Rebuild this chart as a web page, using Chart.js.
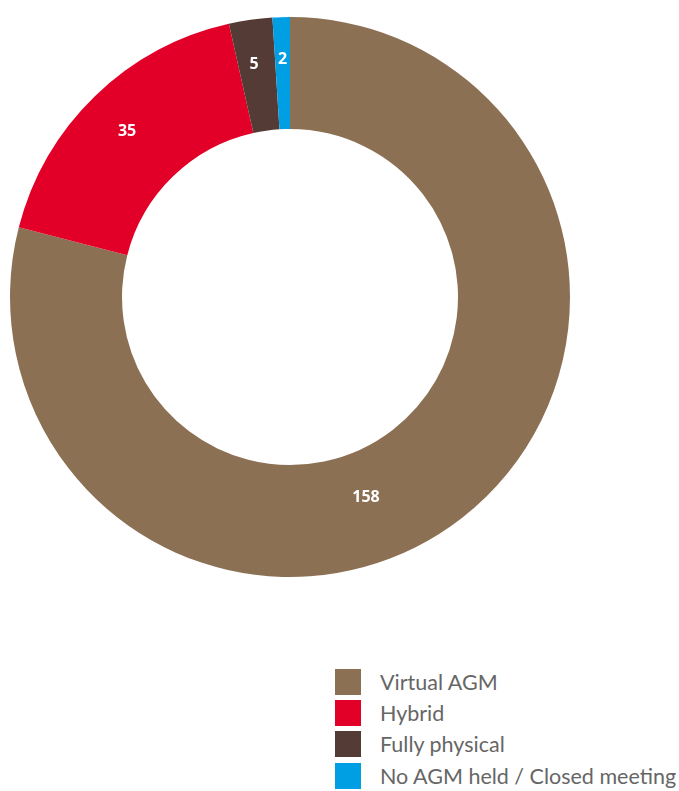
<!DOCTYPE html>
<html>
<head>
<meta charset="utf-8">
<script src="https://cdn.jsdelivr.net/npm/chart.js@4"></script>
<style>
  html, body { margin: 0; padding: 0; background: #fff; }
  #wrap { position: relative; width: 679px; height: 791px; }
  #chart { position: absolute; left: 0; top: 0; }
  #legend { position: absolute; left: 335px; top: 666px; font-family: Lato, "Noto Sans", sans-serif; font-size: 21.5px; color: #666; }
  .item { display: flex; align-items: center; height: 31.3px; white-space: nowrap; }
  .box { width: 26px; height: 26px; margin-right: 19px; flex: none; }
</style>
</head>
<body>
<div id="wrap">
  <canvas id="chart" width="679" height="600"></canvas>
  <div id="legend"></div>
</div>
<script>
const categories = ["Virtual AGM", "Hybrid", "Fully physical", "No AGM held / Closed meeting"];
const meetings = [158, 35, 5, 2];
const colours = ["#8C7054", "#E30028", "#553B35", "#009FE3"];

// Writes each slice's value inside the ring
const sliceLabels = {
  id: "sliceLabels",
  afterDatasetsDraw(chart, args, opts) {
    const ctx = chart.ctx;
    const meta = chart.getDatasetMeta(0);
    ctx.save();
    ctx.fillStyle = "#fff";
    ctx.font = "bold 16px 'Open Sans', 'Noto Sans', sans-serif";
    ctx.textAlign = "center";
    ctx.textBaseline = "middle";
    meta.data.forEach((arc, i) => {
      const p = arc.getProps(["x", "y", "startAngle", "endAngle", "innerRadius", "outerRadius"], true);
      let a = (p.startAngle + p.endAngle) / 2;
      const shift = (opts.angleShift || [])[i] || 0;
      a += shift * Math.PI / 180;
      const r = (opts.radius || [])[i] || (p.innerRadius + p.outerRadius) / 2;
      ctx.fillText(String(chart.data.datasets[0].data[i]), p.x + Math.cos(a) * r, p.y + Math.sin(a) * r);
    });
    ctx.restore();
  }
};

const chart = new Chart(document.getElementById("chart"), {
  type: "doughnut",
  data: {
    labels: categories,
    datasets: [{ data: meetings, backgroundColor: colours, borderWidth: 0 }]
  },
  options: {
    responsive: false,
    animation: false,
    cutout: "60%",
    layout: { padding: { left: 10, right: 109, top: 17, bottom: 23 } },
    plugins: {
      legend: { display: false },
      tooltip: { enabled: false },
      sliceLabels: { angleShift: [17, -0.5, -0.7, 0], radius: [214, 232, 235, 238] }
    }
  },
  plugins: [sliceLabels]
});

// Legend column built from the chart's own labels and colours
const legend = document.getElementById("legend");
chart.data.labels.forEach((label, i) => {
  const item = document.createElement("div");
  item.className = "item";
  const box = document.createElement("span");
  box.className = "box";
  box.style.background = chart.data.datasets[0].backgroundColor[i];
  const text = document.createElement("span");
  text.textContent = label;
  item.appendChild(box);
  item.appendChild(text);
  legend.appendChild(item);
});
</script>
</body>
</html>
